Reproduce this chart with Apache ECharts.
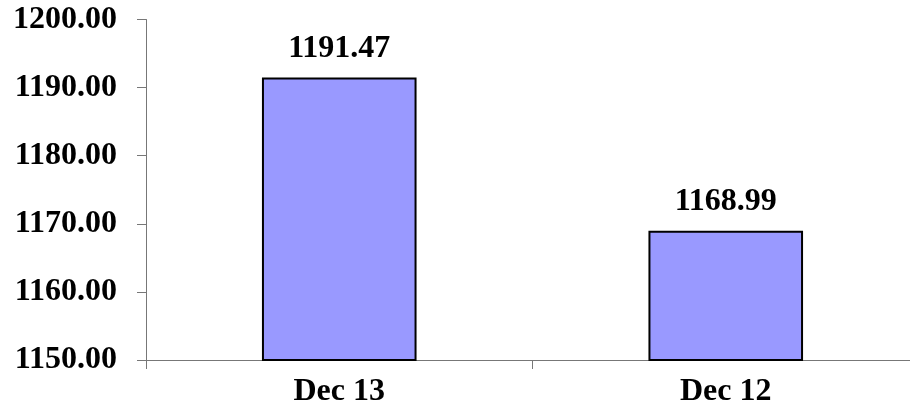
<!DOCTYPE html>
<html><head><meta charset="utf-8">
<script src="https://cdn.jsdelivr.net/npm/echarts@6/dist/echarts.min.js"></script>
<style>html,body{margin:0;padding:0;background:#fff;overflow:hidden}#c{width:920px;height:411px}</style>
</head><body><div id="c"></div>
<script>
const categories = ['Dec 13', 'Dec 12'];
const values = [1191.47, 1168.99];
const yMin = 1150, yMax = 1200, yStep = 10;

const font = '"Liberation Serif", "Times New Roman", serif';
const chart = echarts.init(document.getElementById('c'), null, {renderer: 'canvas'});
chart.setOption({
  animation: false,
  backgroundColor: '#fff',
  grid: {left: 146, top: 19.5, bottom: 51, right: 1, containLabel: false},
  xAxis: {
    type: 'category', data: categories, boundaryGap: true,
    axisLine: {lineStyle: {color: '#777', width: 1}},
    axisTick: {show: true, length: 9, lineStyle: {color: '#777'}},
    axisLabel: {color: '#000', fontFamily: font, fontWeight: 'bold', fontSize: 32, margin: 16}
  },
  yAxis: {
    type: 'value', min: yMin, max: yMax, interval: yStep,
    axisLine: {show: true, lineStyle: {color: '#777', width: 1}},
    axisTick: {show: true, length: 9, lineStyle: {color: '#777'}},
    splitLine: {show: false},
    axisLabel: {color: '#000', fontFamily: font, fontWeight: 'bold', fontSize: 32, margin: 29,
      formatter: v => v.toFixed(2)}
  },
  series: [{
    type: 'bar', data: values, barWidth: '40%',
    itemStyle: {color: '#9999ff', borderColor: '#000', borderWidth: 2},
    label: {show: true, position: 'top', distance: 13, color: '#000', fontFamily: font,
      fontWeight: 'bold', fontSize: 32, formatter: p => p.value.toFixed(2)}
  }]
});
</script></body></html>
